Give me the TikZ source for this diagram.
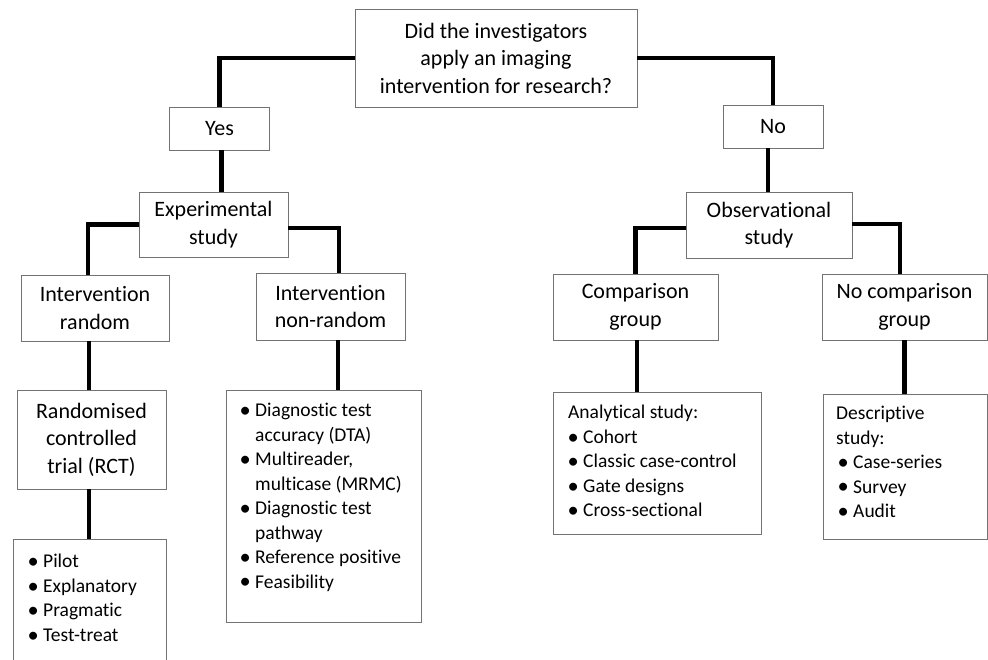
\documentclass[tikz,border=0pt]{standalone}
\usepackage{fontspec}
\setmainfont{Carlito}[Ligatures=NoCommon]
\definecolor{boxgray}{gray}{0.45}
\newcommand{\lbul}{\makebox[17pt][l]{\hspace*{1.5pt}\raisebox{-0.04em}{\scalebox{1.15}{•}}}}
\newcommand{\lind}{\hspace*{17pt}}
\begin{document}
\begin{tikzpicture}[x=1pt,y=-1pt,
  box/.style={draw=boxgray, line width=0.9pt, inner sep=0pt, align=center,
              font=\fontsize{22}{27.5}\selectfont},
  conn/.style={line width=4.5pt, line join=miter},
  listtext/.style={inner sep=0pt, align=left, anchor=north west,
              font=\fontsize{19.5}{24.5}\selectfont}]
\clip (0,0) rectangle (988,659);
\fill[white] (0,0) rectangle (988,659);

% question and answers
\node[box, minimum width=282pt, minimum height=98pt] (q) at (496,58)
  {Did the investigators\\apply an imaging\\intervention for research?};
\node[box, minimum width=100pt, minimum height=43pt] (yes) at (219.5,128.5) {Yes};
\node[box, minimum width=100pt, minimum height=43pt] (no) at (773,126.5) {No};

% study types
\node[box, minimum width=149pt, minimum height=65pt] (exp) at (213.5,224.5) {Experimental\\study};
\node[box, minimum width=166pt, minimum height=66pt] (obs) at (769,225) {Observational\\study};

\node[box, minimum width=148pt, minimum height=66pt] (irand) at (95,308) {Intervention\\random};
\node[box, minimum width=149pt, minimum height=67pt] (inon) at (330.5,306.5) {Intervention\\non-random};
\node[box, minimum width=165pt, minimum height=66pt] (comp) at (635.5,307) {Comparison\\group};
\node[box, minimum width=165pt, minimum height=66pt] (nocomp) at (904.5,307) {No comparison\\group};

\node[box, minimum width=149pt, minimum height=99pt] (rct) at (91.5,439.5)
  {Randomised\\controlled\\trial (RCT)};

% list boxes
\node[box, minimum width=153pt, minimum height=130pt, anchor=north west] (pilot) at (13,539) {};
\node[box, minimum width=195pt, minimum height=232pt, anchor=north west] (nonlist) at (226,390) {};
\node[box, minimum width=208pt, minimum height=142pt, anchor=north west] (anal) at (553,392) {};
\node[box, minimum width=164pt, minimum height=145pt, anchor=north west] (desc) at (823,394) {};

\node[listtext] (pilott) at ([xshift=13pt,yshift=-15pt]pilot.north west)
  {\lbul Pilot\\\lbul Explanatory\\\lbul Pragmatic\\\lbul Test-treat};
\node[listtext] (nonlistt) at ([xshift=12pt,yshift=-13pt]nonlist.north west)
  {\lbul Diagnostic test\\\lind accuracy (DTA)\\\lbul Multireader,\\\lind multicase (MRMC)\\%
   \lbul Diagnostic test\\\lind pathway\\\lbul Reference positive\\\lbul Feasibility};
\node[listtext] (analt) at ([xshift=13pt,yshift=-13pt]anal.north west)
  {\hspace*{2pt}Analytical study:\\\lbul Cohort\\\lbul Classic case-control\\\lbul Gate designs\\\lbul Cross-sectional};
\node[listtext] (desct) at ([xshift=13pt,yshift=-12pt]desc.north west)
  {Descriptive\\study:\\\lbul Case-series\\\lbul Survey\\\lbul Audit};

% connectors
\draw[conn] (q.west) -| (yes.north);
\draw[conn] (q.east) -| (no.north);
\draw[conn] ([xshift=2pt]yes.south) -- ([xshift=2pt]yes.south |- exp.north);
\draw[conn] ([xshift=-5pt]no.south) -- ([xshift=-5pt]no.south |- obs.north);
\draw[conn] (exp.west) -| ([xshift=-7pt]irand.north);
\draw[conn] ([yshift=-3.5pt]exp.east) -| ([xshift=8.5pt]inon.north);
\draw[conn] ([yshift=-3pt]obs.west) -| (comp.north);
\draw[conn] ([yshift=1pt]obs.east) -| ([xshift=-4.5pt]nocomp.north);
\draw[conn] ([xshift=-6pt]irand.south) -- ([xshift=-6pt]irand.south |- rct.north);
\draw[conn] ([xshift=-2.5pt]rct.south) -- ([xshift=-2.5pt]rct.south |- pilot.north);
\draw[conn] ([xshift=7.5pt]inon.south) -- ([xshift=7.5pt]inon.south |- nonlist.north);
\draw[conn] ([xshift=1.5pt]comp.south) -- ([xshift=1.5pt]comp.south |- anal.north);
\draw[conn] (nocomp.south) -- (nocomp.south |- desc.north);
\end{tikzpicture}
\end{document}
